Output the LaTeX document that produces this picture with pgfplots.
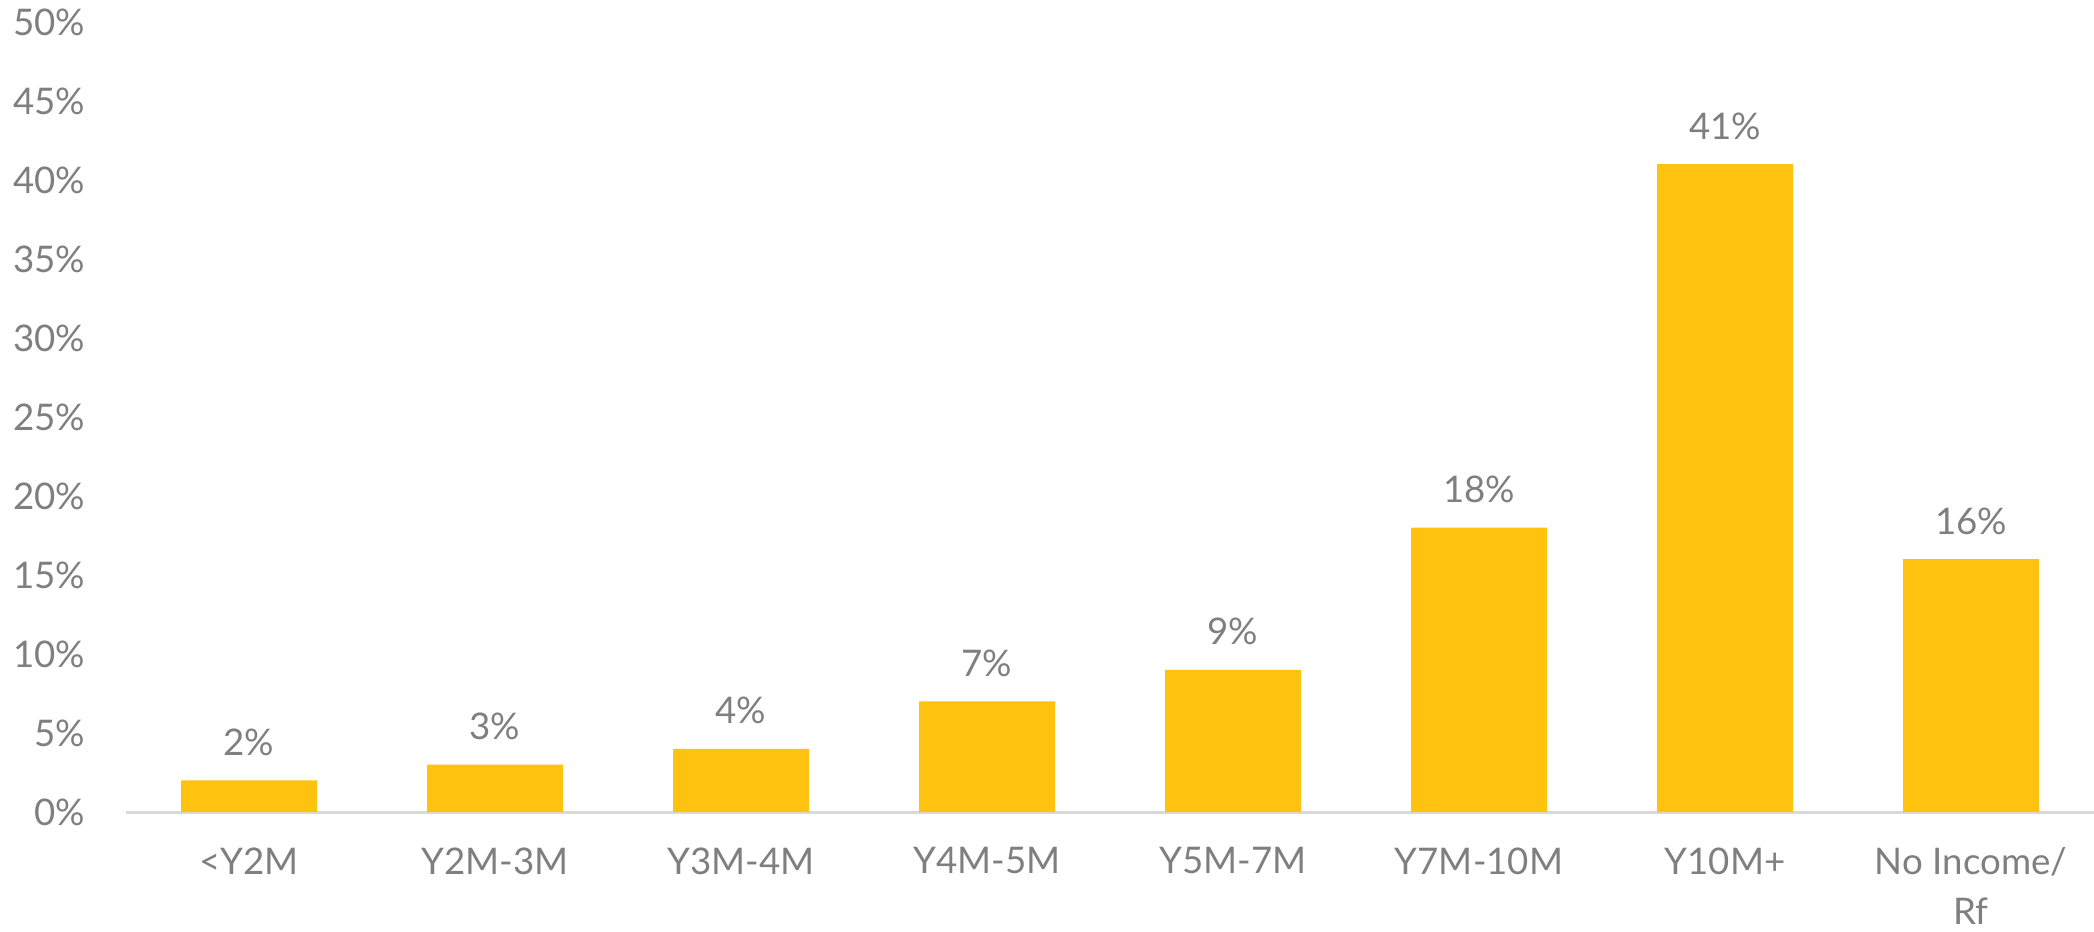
\documentclass[border=0pt]{standalone}
\usepackage{fontspec}
\setmainfont{Lato}
\usepackage{pgfplots}
\pgfplotsset{compat=1.18}
\definecolor{barc}{HTML}{FFC20E}
\definecolor{txt}{HTML}{7F7F7F}
\definecolor{axc}{HTML}{D9D9D9}
\begin{document}
\begin{tikzpicture}
\useasboundingbox (0,0) rectangle (628.2pt,279.3pt);
\begin{axis}[
  at={(37.8pt,35.7pt)}, anchor=south west,
  scale only axis,
  width=590.4pt, height=237pt,
  xmin=-0.5, xmax=7.5, ymin=0, ymax=50,
  /pgf/number format/assume math mode=true,
  axis x line=bottom, axis y line=left,
  axis line style={-},
  y axis line style={draw=none},
  x axis line style={axc, line width=0.9pt},
  major tick length=0pt,
  xtick={0,...,7},
  xticklabels={{<Y2M},{Y2M-3M},{Y3M-4M},{Y4M-5M},{Y5M-7M},{Y7M-10M},{Y10M+},{No Income/\\Rf}},
  ytick={0,5,...,50},
  yticklabels={0\%,5\%,10\%,15\%,20\%,25\%,30\%,35\%,40\%,45\%,50\%},
  tick label style={font=\fontsize{11}{15}\selectfont, text=txt},
  xticklabel style={anchor=north, inner sep=0pt, yshift=-10.5pt, align=center},
  yticklabel style={anchor=east, inner sep=0pt, xshift=-12pt},
  ybar, bar width=40.8pt,
  nodes near coords={\pgfmathprintnumber[assume math mode=true]{\pgfplotspointmeta}\%},
  nodes near coords style={font=\fontsize{11}{15}\selectfont, text=txt, anchor=base, inner sep=0pt, yshift=7.5pt},
  clip=false,
]
\addplot[fill=barc, draw=none] coordinates {(0,2) (1,3) (2,4) (3,7) (4,9) (5,18) (6,41) (7,16)};
\end{axis}
\end{tikzpicture}
\end{document}
